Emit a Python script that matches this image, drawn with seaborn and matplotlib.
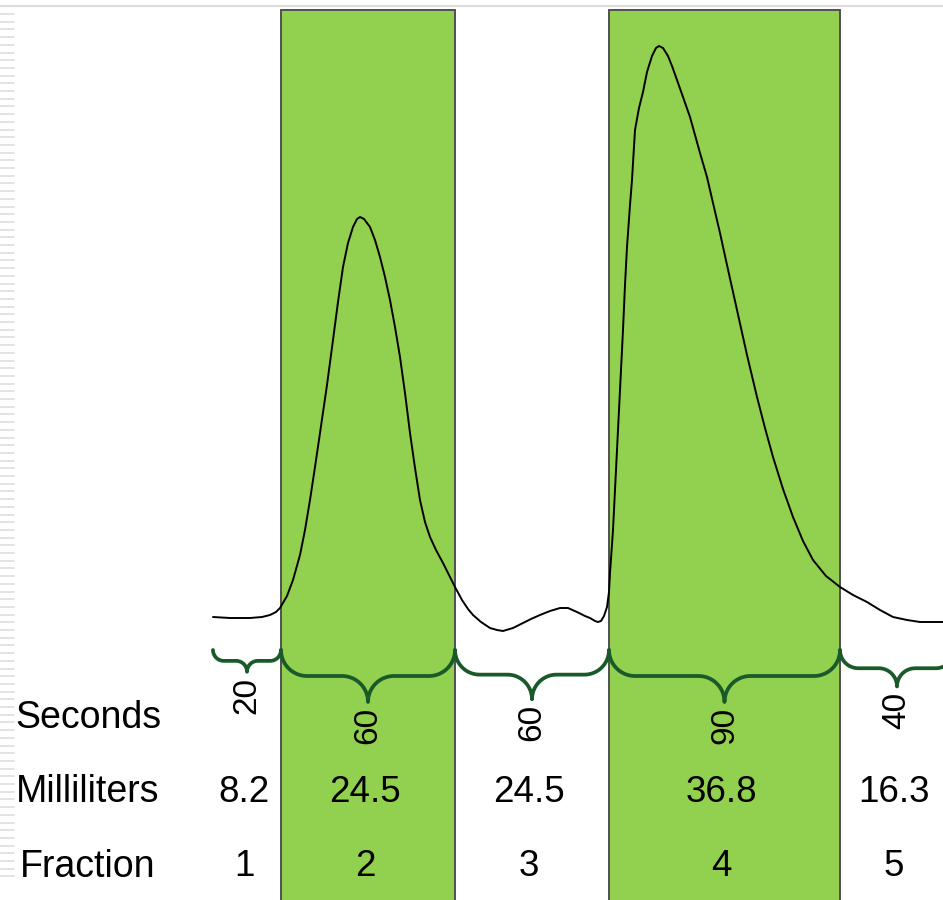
import numpy as np
import pandas as pd
import matplotlib.pyplot as plt
from matplotlib.lines import Line2D
import seaborn as sns

# Fraction table
fractions = [1, 2, 3, 4, 5]
seconds = [20, 60, 60, 90, 40]
milliliters = [8.2, 24.5, 24.5, 36.8, 16.3]
collected = [False, True, False, True, False]

# Fraction boundaries along the trace (elution position, arbitrary units)
fraction_edges = [0, 68, 242, 396, 627, 741]

# Absorbance trace (position, absorbance in arbitrary units)
trace_pos = [0, 17, 37, 49, 57, 63, 67, 74, 80, 87, 92, 97, 102, 107, 114, 120,
             125, 130, 135, 140, 144, 147, 151, 157, 162, 167, 172, 177, 182, 187,
             192, 197, 202, 207, 212, 217, 223, 230, 236, 242, 249, 255, 260, 268,
             277, 284, 290, 300, 310, 318, 327, 337, 347, 355, 364, 372, 377, 382,
             385, 388, 391, 394, 396, 397, 400, 405, 407, 410, 412, 414, 417, 419,
             422, 426, 430, 434, 439, 443, 446, 450, 455, 459, 464, 470, 477, 487,
             494, 500, 507, 514, 524, 534, 544, 552, 560, 570, 580, 590, 600, 613,
             627, 640, 654, 667, 680, 694, 707, 730]
trace_abs = [5, 4, 4, 5, 7, 10, 14, 26, 42, 67, 92, 122, 155, 189, 237, 282,
             320, 355, 379, 395, 403, 405, 403, 395, 382, 365, 345, 322, 295, 265,
             229, 189, 154, 122, 100, 85, 72, 59, 47, 35, 22, 13, 7, 0,
             -6, -8, -9, -6, -1, 3, 7, 11, 14, 14, 10, 6, 4, 1,
             0, 1, 6, 15, 30, 49, 92, 192, 232, 292, 337, 375, 417, 442,
             492, 514, 530, 550, 566, 574, 576, 574, 566, 556, 542, 525, 505, 469,
             445, 419, 389, 357, 312, 267, 225, 194, 165, 133, 105, 81, 62, 46,
             35, 27, 20, 12, 5, 2, 0, 0]

trace = pd.DataFrame({"position": trace_pos, "absorbance": trace_abs})

sns.set_theme(style="white")
plt.rcParams["font.family"] = ["Liberation Sans", "DejaVu Sans"]

green = "#92D050"
brace_color = "#1A5A2A"

fig = plt.figure(figsize=(9.43, 9.0), dpi=100)
ax = fig.add_axes([0, 0, 1, 1])

# collected fractions as green boxes
box_top = 612
box_bottom = -300
for i, keep in enumerate(collected):
    if keep:
        ax.bar(fraction_edges[i], box_top - box_bottom, width=fraction_edges[i + 1] - fraction_edges[i],
               bottom=box_bottom, align="edge", color=green, edgecolor="#505050",
               linewidth=1.4, zorder=1)

# absorbance trace
sns.lineplot(data=trace, x="position", y="absorbance", ax=ax, color="black",
             linewidth=1.4, zorder=3, sort=False)
ax.set_xlim(-213, 730)
ax.set_ylim(-278, 622)
ax.axis("off")


def brace(x_left, x_right, y0, r):
    xc = (x_left + x_right) / 2
    t = np.linspace(0, np.pi / 2, 20)
    xs, ys = [], []
    # left end curl
    xs += list(x_left + r + r * np.cos(np.pi + t)); ys += list(y0 + r * np.sin(np.pi + t))
    # down into the tip
    xs += list(xc - r + r * np.cos(np.pi / 2 - t)); ys += list(y0 - 2 * r + r * np.sin(np.pi / 2 - t))
    # up out of the tip
    xs += list(xc + r + r * np.cos(np.pi - t)); ys += list(y0 - 2 * r + r * np.sin(np.pi - t))
    # right end curl
    xs += list(x_right - r + r * np.cos(1.5 * np.pi + t)); ys += list(y0 + r * np.sin(1.5 * np.pi + t))
    return xs, ys


brace_top = -28
for i in range(len(fractions)):
    xl, xr = fraction_edges[i], fraction_edges[i + 1]
    xc = (xl + xr) / 2
    r = min(0.16 * (xr - xl), 26)
    bx, by = brace(xl, xr, brace_top, r)
    ax.plot(bx, by, color=brace_color, linewidth=2.7, solid_capstyle="round", zorder=4)
    ax.text(xc, brace_top - 2 * r - 5, str(seconds[i]), rotation=90, ha="center", va="top",
            fontsize=24, color="black", zorder=5)
    ax.text(xc - 3, -170, f"{milliliters[i]:.1f}", ha="center", va="center",
            fontsize=26.5, color="black", zorder=5)
    ax.text(xc - 3, -245, str(fractions[i]), ha="center", va="center",
            fontsize=26.5, color="black", zorder=5)

# row labels
for label, y in [("Seconds", -96), ("Milliliters", -170), ("Fraction", -245)]:
    ax.text(-125, y, label, ha="center", va="center", fontsize=27, color="black")

# slide frame remnants: thin top rule and striped left margin
fig.add_artist(Line2D([0, 1], [1 - 6 / 900, 1 - 6 / 900], color="#dcdcdc", linewidth=1.5))
for k in range(113):
    yy = 1 - (14 + 7.7 * k) / 900
    if yy < 0:
        break
    fig.add_artist(Line2D([0, 14 / 943], [yy, yy], color="#dedede", linewidth=1.2))

fig.savefig("out.png", dpi=100)
